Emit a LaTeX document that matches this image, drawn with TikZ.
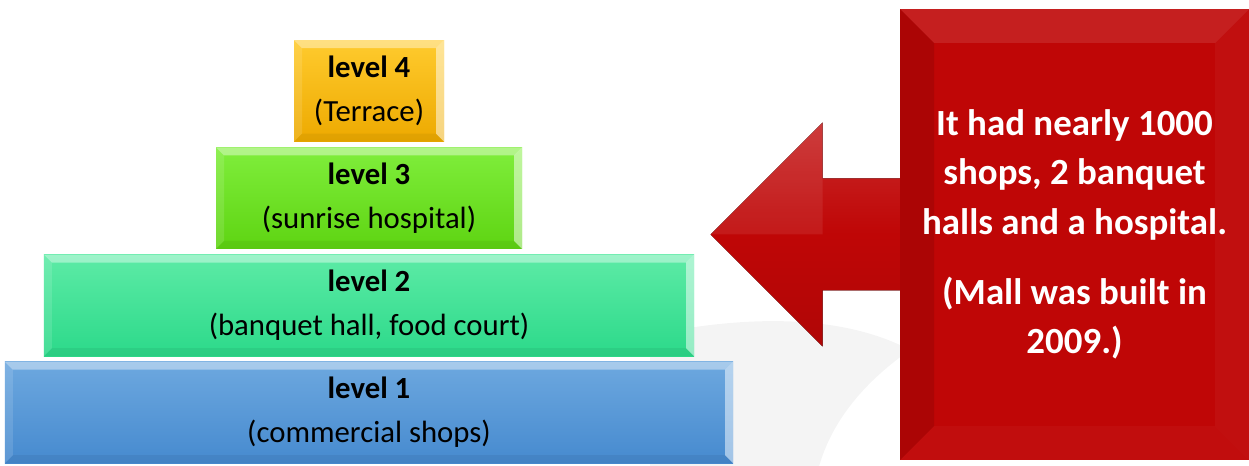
\documentclass[tikz,border=0pt]{standalone}
\usepackage{fontspec}
\setmainfont{Carlito}
\usetikzlibrary{positioning, calc, backgrounds}
\definecolor{cgoldT}{HTML}{FFCB2E}
\definecolor{cgoldB}{HTML}{EDA900}
\definecolor{climeT}{HTML}{80EE3C}
\definecolor{climeB}{HTML}{5ED412}
\definecolor{cmintT}{HTML}{5DEBA6}
\definecolor{cmintB}{HTML}{2CD98A}
\definecolor{cblueT}{HTML}{6DA8DF}
\definecolor{cblueB}{HTML}{468ACF}
\definecolor{cred}{HTML}{BF0606}
\definecolor{cswoosh}{HTML}{F4F4F4}
\tikzset{
  bevel/.style n args={5}{path picture={
    \path (path picture bounding box.north west) coordinate (nw)
          (path picture bounding box.north east) coordinate (ne)
          (path picture bounding box.south west) coordinate (sw)
          (path picture bounding box.south east) coordinate (se);
    \fill[#2] (nw) -- (ne) -- ([shift={(-#1,#1)}]ne) -- ([shift={(#1,#1)}]nw) -- cycle;
    \fill[#3] (ne) -- (se) -- ([shift={(-#1,-#1)}]se) -- ([shift={(-#1,#1)}]ne) -- cycle;
    \fill[#4] (se) -- (sw) -- ([shift={(#1,-#1)}]sw) -- ([shift={(-#1,-#1)}]se) -- cycle;
    \fill[#5] (sw) -- (nw) -- ([shift={(#1,#1)}]nw) -- ([shift={(#1,-#1)}]sw) -- cycle;
  }},
  level/.style={rectangle, inner sep=0pt, minimum height=2.03cm, align=center,
    font=\fontsize{17.5}{25}\selectfont,
    bevel={8}{white,opacity=.4}{white,opacity=.5}{black,opacity=.05}{white,opacity=.12}},
  lvl/.style 2 args={top color=#1, bottom color=#2},
  infobox/.style={rectangle, inner sep=0pt, fill=cred, text=white, align=center,
    minimum width=6.98cm, minimum height=9.02cm,
    font=\bfseries\fontsize{21}{28}\selectfont,
    bevel={34}{white,opacity=.1}{white,opacity=.04}{white,opacity=.03}{black,opacity=.1}},
}

\begin{document}
\begin{tikzpicture}[x=0.2mm, y=-0.2mm]
  \useasboundingbox (0,0) rectangle (1249,466);
  % the four floors, bottom up
  \node[level, lvl={cblueT}{cblueB}, minimum width=14.56cm] (lvl1) at (369,412.5) {\textbf{level 1}\\(commercial shops)};
  \node[level, lvl={cmintT}{cmintB}, minimum width=13cm, above=1mm of lvl1] (lvl2) {\textbf{level 2}\\(banquet hall, food court)};
  \node[level, lvl={climeT}{climeB}, minimum width=6.12cm, above=1mm of lvl2] (lvl3) {\textbf{level 3}\\(sunrise hospital)};
  \node[level, lvl={cgoldT}{cgoldB}, minimum width=3cm, above=1mm of lvl3] (lvl4) {\textbf{level 4}\\(Terrace)};
  % facts box
  \node[infobox] (info) at (1074.5,234.5) {It had nearly 1000\\ shops, 2 banquet\\ halls and a hospital.\\[12pt] (Mall was built in\\ 2009.)};
  \begin{scope}[on background layer]
    \fill[cswoosh] (650,335) .. controls (760,312) and (850,318) .. (910,350) .. controls (860,385) and (830,425) .. (818,470) -- (650,470) -- cycle;
    \coordinate (tip) at ($(info.west)+(-189,0)$);
    \fill[top color=cred!85!white, bottom color=cred!92!black, middle color=cred] (tip) -- ++(112,-112) -- ++(0,56) -- ++(90,0) -- ++(0,112) -- ++(-90,0) -- ++(0,56) -- cycle;
    \fill[white, opacity=.08] (tip) -- ++(112,-112) -- ++(0,112) -- cycle;
  \end{scope}
\end{tikzpicture}
\end{document}
